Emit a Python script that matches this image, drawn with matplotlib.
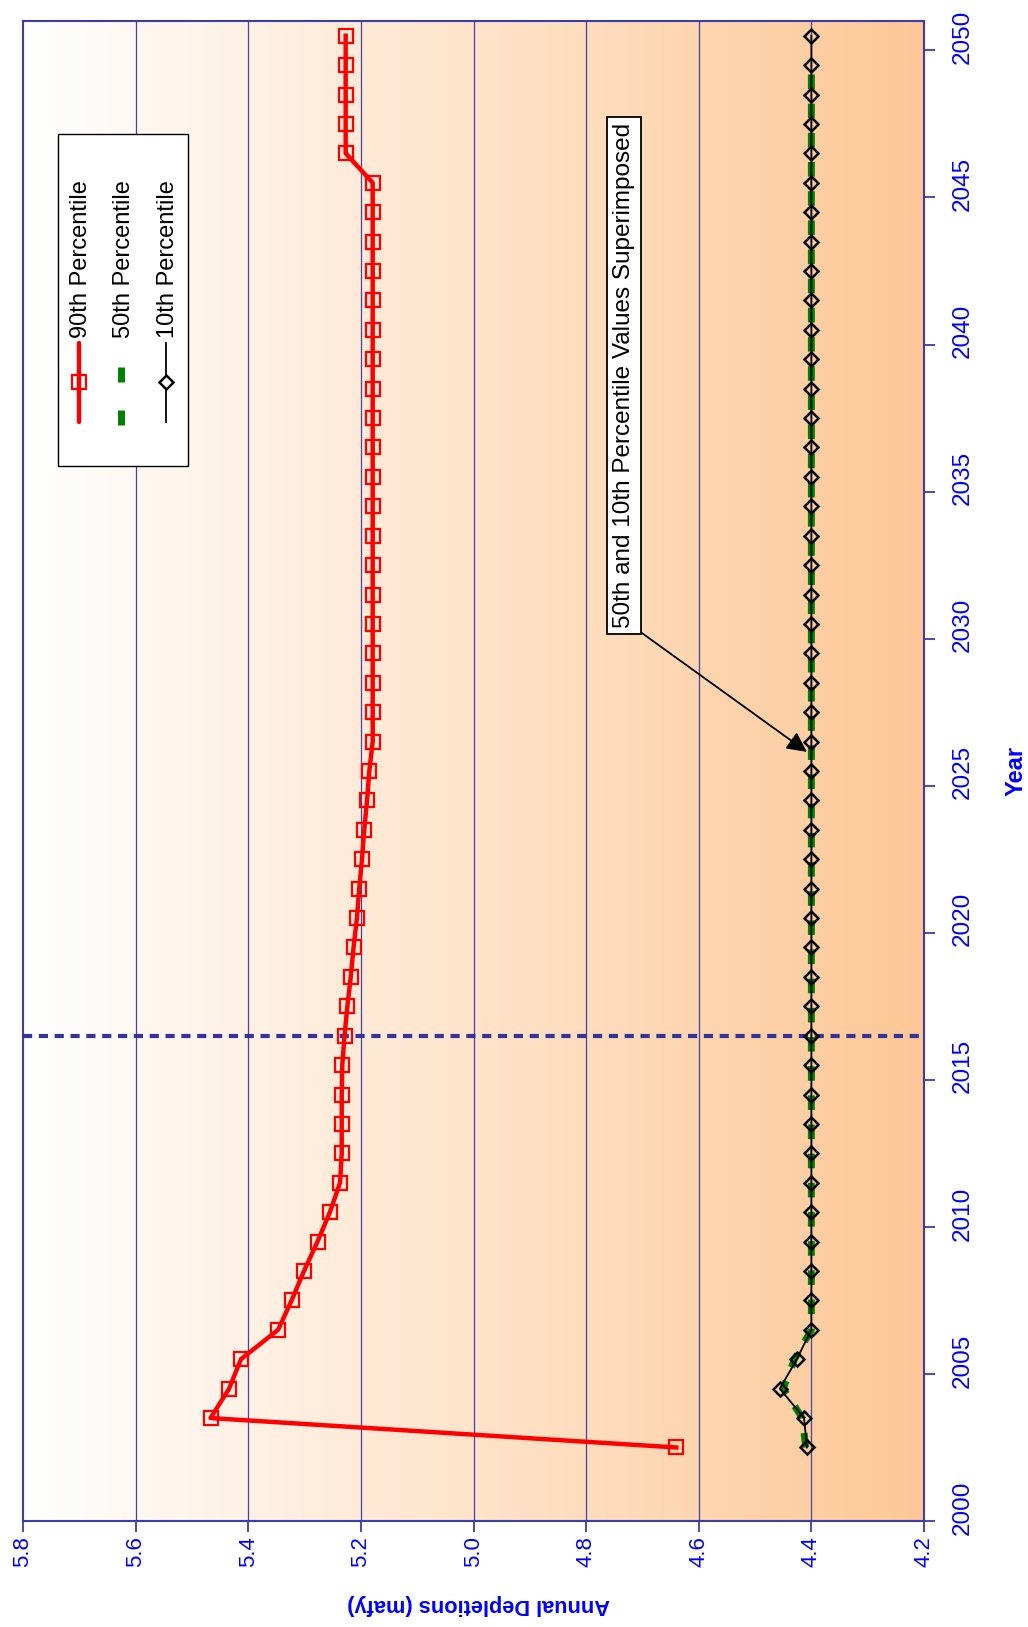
import numpy as np
import matplotlib
matplotlib.use("Agg")
import matplotlib.pyplot as plt
from matplotlib.patches import Rectangle
from matplotlib.lines import Line2D
from matplotlib.transforms import Affine2D, ScaledTranslation

plt.rcParams["font.family"] = ["Liberation Sans", "DejaVu Sans"]

# ---- data -------------------------------------------------------------
years = list(range(2002, 2051))

p90 = [4.640, 5.467, 5.434, 5.413, 5.347, 5.323, 5.301, 5.277, 5.255, 5.237,
       5.234, 5.234, 5.234, 5.233, 5.229, 5.224, 5.218, 5.213, 5.207, 5.203,
       5.198, 5.194, 5.189, 5.185,
       5.179, 5.179, 5.179, 5.179, 5.179, 5.179, 5.179, 5.179, 5.179, 5.179,
       5.179, 5.179, 5.179, 5.179, 5.179, 5.179, 5.179, 5.179, 5.179, 5.179,
       5.227, 5.227, 5.227, 5.227, 5.227]

# median series runs through 2049
p50_years = list(range(2002, 2050))
p50 = [4.410, 4.416, 4.450, 4.430] + [4.400] * 44

p10 = [4.408, 4.413, 4.456, 4.426] + [4.400] * 45

value_ticks = [4.2, 4.4, 4.6, 4.8, 5.0, 5.2, 5.4, 5.6, 5.8]
value_labels = ["4.2", "4.4", "4.6", "4.8", "5.0", "5.2", "5.4", "5.6", "5.8"]
year_ticks = [2000, 2005, 2010, 2015, 2020, 2025, 2030, 2035, 2040, 2045, 2050]
year_labels = [str(y) for y in year_ticks]

current_year = 2016.5
legend_names = ["90th Percentile", "50th Percentile", "10th Percentile"]
note_text = "50th and 10th Percentile Values Superimposed"

# ---- styling ----------------------------------------------------------
W, H = 1028, 1627
BLUE = "#0000ff"
FRAME = "#3c3cac"
GRID = "#4444a0"
RED = "#ff0000"
GREEN = "#008000"

fig = plt.figure(figsize=(W / 100, H / 100), dpi=100)
fig.patch.set_facecolor("white")
# pixel transform measured from the top-left corner of the figure
pix = Affine2D().scale(1 / W, -1 / H).translate(0, 1) + fig.transFigure

ax = fig.add_axes([23 / W, 1 - 1521 / H, 901 / W, 1500 / H])

# horizontal white-to-peach gradient fill of the plot area
t = np.linspace(0, 1, 512)[:, None]
c0 = np.array([255, 255, 255]) / 255
c1 = np.array([253, 200, 150]) / 255
grad = (c0 * (1 - t) + c1 * t)[None, :, :]
ax.imshow(grad, extent=[0, 1, 0, 1], transform=ax.transAxes,
          aspect="auto", zorder=-2, interpolation="bilinear")

# mid-year positions of the annual values
pos = np.array(years) + 0.5
pos50 = np.array(p50_years) + 0.5

ax.plot(p50, pos50, color=GREEN, lw=5, dashes=(2.1, 2.1), zorder=3,
        solid_capstyle="butt", dash_capstyle="butt")
ax.plot(p90, pos, color=RED, lw=3.2, marker="s", ms=10, mfc="none",
        mec=RED, mew=1.6, zorder=4)
ax.plot(p10, pos, color="black", lw=1.3, marker="D", ms=7.5, mfc="none",
        mec="black", mew=1.8, zorder=5)

ax.axhline(current_year, color="#333399", lw=3, dashes=(2.2, 1.6), zorder=3.5)

ax.set_xlim(5.8, 4.2)
ax.set_ylim(2000, 2051)

# value axis (drawn along the bottom)
ax.set_xticks(value_ticks, value_labels)
ax.tick_params(axis="x", direction="out", length=8, width=1.3, color=FRAME,
               labelcolor=BLUE, labelsize=16, labelrotation=90, pad=3,
               top=False)
for v in value_ticks[1:-1]:
    ax.axvline(v, color=GRID, lw=0.9, zorder=-1)

# year axis (drawn along the right side)
ax.yaxis.tick_right()
ax.set_yticks(year_ticks, year_labels)
ax.tick_params(axis="y", direction="out", length=8, width=1.3, color=FRAME,
               labelcolor=BLUE, labelsize=17.5, labelrotation=90, pad=12,
               left=False)
shift = ScaledTranslation(0, 13.5 / 100, fig.dpi_scale_trans)
for lbl in ax.get_yticklabels():
    lbl.set_va("center")
    lbl.set_ha("left")
    lbl.set_transform(lbl.get_transform() + shift)

for s in ax.spines.values():
    s.set_color(FRAME)
    s.set_linewidth(1.5)

ax.set_xlabel("Annual Depletions (mafy)", fontsize=15.7, fontweight="bold",
              color=BLUE, rotation=180)
ax.xaxis.set_label_coords(0.506, -0.056)
ax.xaxis.label.set_va("center")

ax.set_ylabel("Year", fontsize=17, fontweight="bold", color=BLUE)
ax.yaxis.set_label_position("right")
ax.yaxis.set_label_coords(1.102, 0.5)
ax.yaxis.label.set_rotation(90)
ax.yaxis.label.set_va("center")
ax.yaxis.label.set_ha("center")

# callout pointing at the overlapping lower series
ax.annotate(note_text, xy=(4.408, 2026.15), xytext=(4.733, 2038.95),
            rotation=90, ha="center", va="center", fontsize=17.5, color="black",
            bbox=dict(boxstyle="square,pad=0.25", fc="white", ec="black", lw=1.3),
            arrowprops=dict(arrowstyle="-|>", color="black", lw=1.3,
                            mutation_scale=30, relpos=(1, 0),
                            shrinkA=0, shrinkB=0),
            zorder=6)

# legend, laid out sideways like the rest of the chart
fig.add_artist(Rectangle((58, 134), 130, 332, transform=pix, fc="white",
                         ec="black", lw=1.0, zorder=7))
fig.add_artist(Line2D([79, 79], [343, 422], transform=pix, color=RED, lw=3.2,
                      solid_capstyle="round", zorder=8))
fig.add_artist(Line2D([79], [382], transform=pix, marker="s", ms=10,
                      mfc="none", mec=RED, mew=1.6, zorder=9))
fig.add_artist(Line2D([120.5, 120.5], [367, 382], transform=pix, color=GREEN,
                      lw=5, solid_capstyle="butt", zorder=8))
fig.add_artist(Line2D([120.5, 120.5], [410, 425], transform=pix, color=GREEN,
                      lw=5, solid_capstyle="butt", zorder=8))
fig.add_artist(Line2D([166, 166], [343, 422], transform=pix, color="black",
                      lw=1.3, zorder=8))
fig.add_artist(Line2D([166], [382], transform=pix, marker="D", ms=7.5,
                      mfc="white", mec="black", mew=1.8, zorder=9))
for name, x in zip(legend_names, [81, 124.5, 167.5]):
    fig.text(x, 338, name, transform=pix, rotation=90, ha="center",
             va="bottom", fontsize=17, color="black", zorder=9)

fig.savefig("out.png", dpi=100, facecolor="white")
